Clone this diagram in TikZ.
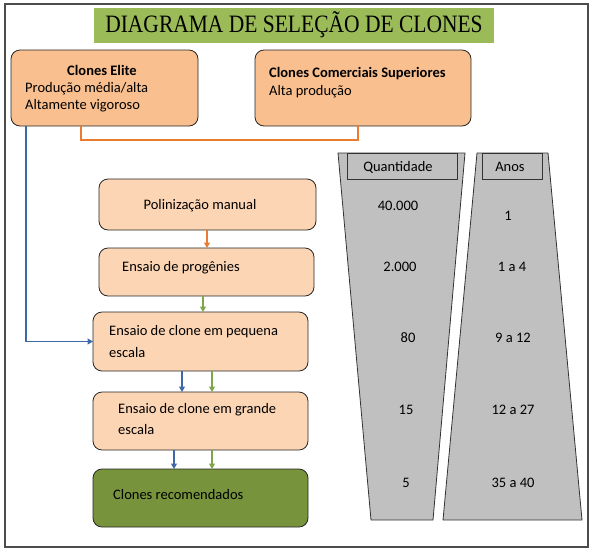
\documentclass[tikz,border=0pt]{standalone}
\usepackage{fontspec}
\setmainfont{Carlito}
\newfontfamily\titlefont[FakeStretch=0.86]{Liberation Serif}
\usetikzlibrary{arrows.meta}
\definecolor{peachA}{HTML}{F9BF8F}
\definecolor{peachB}{HTML}{FCD5B5}
\definecolor{titlegreen}{HTML}{9BBB59}
\definecolor{recgreen}{HTML}{77933C}
\definecolor{trapgray}{HTML}{C0C0C0}
\definecolor{lineorange}{HTML}{E97C30}
\definecolor{linegreen}{HTML}{7FA54A}
\definecolor{lineblue}{HTML}{3E68A8}
\tikzset{
  box/.style={draw=black!85, line width=0.8pt, rounded corners=9pt, inner sep=0pt, outer sep=0pt},
  txt/.style={inner sep=0pt, font=\fontsize{14.5}{16}\selectfont},
  wtxt/.style={txt, anchor=west},
  conn/.style={line width=1.2pt},
  tip/.style={-{Triangle[width=6pt,length=5.5pt]}},
  trap/.style={draw=black!80, line width=0.8pt, fill=trapgray},
}
\begin{document}
\begin{tikzpicture}[x=1pt,y=-1pt]
\useasboundingbox (0,0) rectangle (593,552);
% outer frame
\draw[black!70, line width=1.2pt] (5,4) rectangle (588,547);
% title
\node[fill=titlegreen, minimum width=400pt, minimum height=35pt, inner sep=0pt] (title) at (294,25.5) {};
\node[inner sep=0pt] (titletext) at (294,25) {\titlefont\fontsize{25}{28}\selectfont DIAGRAMA DE SELEÇÃO DE CLONES};
% top boxes
\node[box, fill=peachA, minimum width=187pt, minimum height=76pt] (elite) at (104.5,88) {};
\node[box, fill=peachA, minimum width=216pt, minimum height=76pt] (comm) at (363,88) {};
\node[txt, font=\fontsize{14.5}{16}\selectfont\bfseries] (eliteT) at (102,70) {Clones Elite};
\node[wtxt] (eliteA) at (25,89) {Produção média/alta};
\node[wtxt] (eliteB) at (25,106) {Altamente vigoroso};
\node[wtxt, font=\fontsize{14.5}{16}\selectfont\bfseries] (commT) at (269,74) {Clones Comerciais Superiores};
\node[wtxt] (commA) at (269,92) {Alta produção};
% flow boxes
\node[box, fill=peachB, minimum width=217pt, minimum height=51pt] (poli) at (207.5,204.5) {};
\node[box, fill=peachB, minimum width=215pt, minimum height=48pt] (prog) at (206.5,272) {};
\node[box, fill=peachB, minimum width=215pt, minimum height=59pt] (peq) at (200.5,341.5) {};
\node[box, fill=peachB, minimum width=215pt, minimum height=58pt] (gra) at (200.5,421) {};
\node[box, fill=recgreen, minimum width=215pt, minimum height=58pt] (rec) at (200.5,498) {};
\node[txt] (poliT) at (200,206) {Polinização manual};
\node[wtxt] (progT) at (122,268) {Ensaio de progênies};
\node[wtxt] (peqA) at (109,332) {Ensaio de clone em pequena};
\node[wtxt] (peqB) at (109,353) {escala};
\node[wtxt] (graA) at (118,410) {Ensaio de clone em grande};
\node[wtxt] (graB) at (118,430) {escala};
\node[wtxt] (recT) at (113,495) {Clones recomendados};
% connectors
\draw[conn, lineorange] (81,0 |- elite.south) -- (81,140) -| (358,0 |- comm.south);
\draw[conn, lineblue, tip] (26,0 |- elite.south) |- (peq.west);
\draw[conn, lineorange, tip] (poli.south -| 207,0) -- (prog.north -| 207,0);
\draw[conn, linegreen, tip] (prog.south -| 203,0) -- (peq.north -| 203,0);
\draw[conn, lineblue, tip] (peq.south -| 182,0) -- (gra.north -| 182,0);
\draw[conn, linegreen, tip] (peq.south -| 212,0) -- (gra.north -| 212,0);
\draw[conn, lineblue, tip] (gra.south -| 174,0) -- (rec.north -| 174,0);
\draw[conn, linegreen, tip] (gra.south -| 212,0) -- (rec.north -| 212,0);
% trapezoids
\draw[trap] (338,153) -- (465,153) -- (433,520) -- (371,520) -- cycle;
\draw[trap] (477,153) -- (548,153) -- (582,520) -- (443,520) -- cycle;
\node[draw=black!80, line width=0.8pt, fill=trapgray, minimum width=110pt, minimum height=26pt, inner sep=0pt] (qhead) at (402,166) {};
\node[draw=black!80, line width=0.8pt, fill=trapgray, minimum width=60pt, minimum height=26pt, inner sep=0pt] (ahead) at (512,166) {};
\node[txt] (qT) at (398,167) {Quantidade};
\node[txt] (aT) at (510,167) {Anos};
\node[txt] (q1) at (398,206) {40.000};
\node[txt] (q2) at (400,267) {2.000};
\node[txt] (q3) at (408,338) {80};
\node[txt] (q4) at (406,410) {15};
\node[txt] (q5) at (406,483) {5};
\node[txt] (a1) at (508,216) {1};
\node[txt] (a2) at (512,267) {1 a 4};
\node[txt] (a3) at (513,338) {9 a 12};
\node[txt] (a4) at (513,410) {12 a 27};
\node[txt] (a5) at (513,483) {35 a 40};
\end{tikzpicture}
\end{document}
